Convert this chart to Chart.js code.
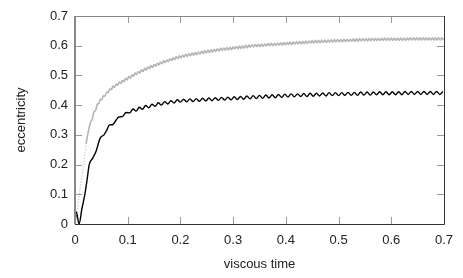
<!DOCTYPE html>
<html>
<head>
<meta charset="utf-8">
<script src="https://cdn.jsdelivr.net/npm/chart.js@4"></script>
<style>
  html, body { margin: 0; padding: 0; background: #fff; }
  #wrap { width: 463px; height: 278px; }
</style>
</head>
<body>
<div id="wrap"><canvas id="Mychart" width="463" height="278"></canvas></div>
<script>
// tick values
const xTicks = [0, 0.1, 0.2, 0.3, 0.4, 0.5, 0.6, 0.7];
const yTicks = [0, 0.1, 0.2, 0.3, 0.4, 0.5, 0.6, 0.7];

// black curve (lower)
const blackX = [
  0, 0.0025, 0.0076, 0.013, 0.019, 0.023, 0.027, 0.033, 0.04, 0.045,
  0.048, 0.055, 0.06, 0.065, 0.072, 0.078, 0.083, 0.09, 0.097, 0.104,
  0.110, 0.116, 0.122, 0.128, 0.134, 0.140, 0.146, 0.152, 0.158, 0.164,
  0.170, 0.176, 0.182, 0.188, 0.194, 0.200, 0.206, 0.212, 0.218, 0.224,
  0.230, 0.236, 0.242, 0.248, 0.254, 0.260, 0.266, 0.272, 0.278, 0.284,
  0.290, 0.296, 0.302, 0.308, 0.314, 0.320, 0.326, 0.332, 0.338, 0.344,
  0.350, 0.356, 0.362, 0.368, 0.374, 0.380, 0.386, 0.392, 0.398, 0.404,
  0.410, 0.416, 0.422, 0.428, 0.434, 0.440, 0.446, 0.452, 0.458, 0.464,
  0.470, 0.476, 0.482, 0.488, 0.494, 0.500, 0.506, 0.512, 0.518, 0.524,
  0.530, 0.536, 0.542, 0.548, 0.554, 0.560, 0.566, 0.572, 0.578, 0.584,
  0.590, 0.596, 0.602, 0.608, 0.614, 0.620, 0.626, 0.632, 0.638, 0.644,
  0.650, 0.656, 0.662, 0.668, 0.674, 0.680, 0.686, 0.692, 0.698
];
const blackY = [
  0, 0.041, 0, 0.05, 0.103, 0.15, 0.2, 0.22, 0.245, 0.275,
  0.29, 0.3, 0.315, 0.333, 0.335, 0.35, 0.36, 0.362, 0.375, 0.374,
  0.387, 0.380, 0.393, 0.386, 0.399, 0.391, 0.403, 0.396, 0.408, 0.400,
  0.412, 0.404, 0.415, 0.407, 0.418, 0.410, 0.420, 0.411, 0.421, 0.412,
  0.422, 0.413, 0.423, 0.414, 0.424, 0.415, 0.425, 0.416, 0.426, 0.417,
  0.427, 0.418, 0.428, 0.419, 0.429, 0.420, 0.431, 0.421, 0.432, 0.422,
  0.433, 0.423, 0.434, 0.424, 0.435, 0.425, 0.436, 0.426, 0.437, 0.427,
  0.438, 0.428, 0.438, 0.429, 0.439, 0.429, 0.440, 0.430, 0.440, 0.431,
  0.441, 0.431, 0.442, 0.432, 0.442, 0.432, 0.442, 0.433, 0.443, 0.433,
  0.443, 0.433, 0.444, 0.434, 0.444, 0.434, 0.444, 0.435, 0.445, 0.435,
  0.445, 0.435, 0.445, 0.435, 0.445, 0.435, 0.446, 0.436, 0.446, 0.436,
  0.446, 0.436, 0.446, 0.436, 0.446, 0.436, 0.446, 0.436, 0.446
];

// grey curve (upper), dotted lead-in then solid
const greyLeadX = [0, 0.006, 0.012, 0.018, 0.021];
const greyLeadY = [0, 0.07, 0.15, 0.22, 0.27];

const greyX = [
  0.021, 0.024, 0.027,
  0.030, 0.033, 0.036, 0.039, 0.042, 0.045, 0.048, 0.051, 0.054, 0.057,
  0.060, 0.063, 0.066, 0.069, 0.072, 0.075, 0.078, 0.081, 0.084, 0.087,
  0.090, 0.093, 0.096, 0.099, 0.102, 0.105, 0.108, 0.111, 0.114, 0.117,
  0.120, 0.123, 0.126, 0.129, 0.132, 0.135, 0.138, 0.141, 0.144, 0.147,
  0.150, 0.153, 0.156, 0.159, 0.162, 0.165, 0.168, 0.171, 0.174, 0.177,
  0.180, 0.183, 0.186, 0.189, 0.192, 0.195, 0.198, 0.201, 0.204, 0.207,
  0.210, 0.213, 0.216, 0.219, 0.222, 0.225, 0.228, 0.231, 0.234, 0.237,
  0.240, 0.243, 0.246, 0.249, 0.252, 0.255, 0.258, 0.261, 0.264, 0.267,
  0.270, 0.273, 0.276, 0.279, 0.282, 0.285, 0.288, 0.291, 0.294, 0.297,
  0.300, 0.303, 0.306, 0.309, 0.312, 0.315, 0.318, 0.321, 0.324, 0.327,
  0.330, 0.333, 0.336, 0.339, 0.342, 0.345, 0.348, 0.351, 0.354, 0.357,
  0.360, 0.363, 0.366, 0.369, 0.372, 0.375, 0.378, 0.381, 0.384, 0.387,
  0.390, 0.393, 0.396, 0.399, 0.402, 0.405, 0.408, 0.411, 0.414, 0.417,
  0.420, 0.423, 0.426, 0.429, 0.432, 0.435, 0.438, 0.441, 0.444, 0.447,
  0.450, 0.453, 0.456, 0.459, 0.462, 0.465, 0.468, 0.471, 0.474, 0.477,
  0.480, 0.483, 0.486, 0.489, 0.492, 0.495, 0.498, 0.501, 0.504, 0.507,
  0.510, 0.513, 0.516, 0.519, 0.522, 0.525, 0.528, 0.531, 0.534, 0.537,
  0.540, 0.543, 0.546, 0.549, 0.552, 0.555, 0.558, 0.561, 0.564, 0.567,
  0.570, 0.573, 0.576, 0.579, 0.582, 0.585, 0.588, 0.591, 0.594, 0.597,
  0.600, 0.603, 0.606, 0.609, 0.612, 0.615, 0.618, 0.621, 0.624, 0.627,
  0.630, 0.633, 0.636, 0.639, 0.642, 0.645, 0.648, 0.651, 0.654, 0.657,
  0.660, 0.663, 0.666, 0.669, 0.672, 0.675, 0.678, 0.681, 0.684, 0.687,
  0.690, 0.693, 0.696, 0.699
];
const greyY = [
  0.27, 0.30, 0.325,
  0.344, 0.354, 0.378, 0.382, 0.402, 0.406, 0.420, 0.418, 0.432, 0.430,
  0.444, 0.442, 0.455, 0.452, 0.464, 0.460, 0.471, 0.467, 0.478, 0.473,
  0.484, 0.479, 0.490, 0.485, 0.496, 0.491, 0.502, 0.497, 0.508, 0.503,
  0.513, 0.508, 0.519, 0.513, 0.524, 0.518, 0.528, 0.523, 0.533, 0.527,
  0.537, 0.531, 0.541, 0.535, 0.545, 0.539, 0.549, 0.543, 0.552, 0.546,
  0.556, 0.550, 0.559, 0.553, 0.563, 0.556, 0.566, 0.559, 0.568, 0.562,
  0.571, 0.564, 0.573, 0.566, 0.575, 0.568, 0.577, 0.570, 0.579, 0.572,
  0.581, 0.574, 0.583, 0.576, 0.585, 0.577, 0.586, 0.579, 0.588, 0.581,
  0.590, 0.582, 0.591, 0.584, 0.592, 0.585, 0.594, 0.586, 0.595, 0.587,
  0.596, 0.589, 0.597, 0.590, 0.599, 0.591, 0.600, 0.592, 0.601, 0.593,
  0.602, 0.595, 0.603, 0.596, 0.604, 0.597, 0.605, 0.597, 0.606, 0.598,
  0.606, 0.599, 0.607, 0.600, 0.608, 0.600, 0.608, 0.601, 0.609, 0.602,
  0.610, 0.602, 0.611, 0.603, 0.611, 0.604, 0.612, 0.604, 0.613, 0.605,
  0.613, 0.606, 0.614, 0.606, 0.615, 0.607, 0.616, 0.608, 0.616, 0.609,
  0.617, 0.609, 0.618, 0.610, 0.618, 0.610, 0.619, 0.611, 0.619, 0.611,
  0.620, 0.612, 0.620, 0.612, 0.621, 0.613, 0.621, 0.613, 0.621, 0.613,
  0.622, 0.614, 0.622, 0.614, 0.622, 0.615, 0.623, 0.615, 0.623, 0.615,
  0.624, 0.616, 0.624, 0.616, 0.624, 0.616, 0.624, 0.617, 0.625, 0.617,
  0.625, 0.617, 0.625, 0.617, 0.625, 0.618, 0.626, 0.618, 0.626, 0.618,
  0.626, 0.618, 0.626, 0.618, 0.626, 0.618, 0.626, 0.618, 0.626, 0.618,
  0.626, 0.619, 0.627, 0.619, 0.627, 0.619, 0.627, 0.619, 0.627, 0.619,
  0.627, 0.619, 0.627, 0.619, 0.627, 0.619, 0.627, 0.619, 0.627, 0.619,
  0.627, 0.619, 0.627, 0.619
];

const toPoints = (xs, ys) => xs.map((x, i) => ({ x: x, y: ys[i] }));

const FONT = { family: "'Liberation Sans', Arial, sans-serif", size: 13 };
const TEXT = "#222";

// gnuplot style frame with inward ticks on all four sides
const framePlugin = {
  id: "frame",
  afterDraw(chart) {
    const { ctx, chartArea: a, scales } = chart;
    const tl = 7;
    ctx.save();
    ctx.lineWidth = 1;
    ctx.strokeStyle = "#999";
    ctx.beginPath();
    xTicks.forEach((v) => {
      const px = Math.round(scales.x.getPixelForValue(v)) + 0.5;
      ctx.moveTo(px, a.bottom);
      ctx.lineTo(px, a.bottom - tl);
      ctx.moveTo(px, a.top);
      ctx.lineTo(px, a.top + tl);
    });
    yTicks.forEach((v) => {
      const py = Math.round(scales.y.getPixelForValue(v)) + 0.5;
      ctx.moveTo(a.left, py);
      ctx.lineTo(a.left + tl, py);
      ctx.moveTo(a.right, py);
      ctx.lineTo(a.right - tl, py);
    });
    ctx.stroke();

    const L = Math.round(a.left), R = Math.round(a.right);
    const T = Math.round(a.top), B = Math.round(a.bottom);
    ctx.strokeStyle = "#888";
    ctx.lineWidth = 1;
    ctx.beginPath();
    ctx.moveTo(L, T + 0.5);
    ctx.lineTo(R, T + 0.5);
    ctx.stroke();
    ctx.lineWidth = 2;
    ctx.beginPath();
    ctx.moveTo(L, T);
    ctx.lineTo(L, B);
    ctx.stroke();
    ctx.strokeStyle = "#333";
    ctx.lineWidth = 1;
    ctx.beginPath();
    ctx.moveTo(L, B + 0.5);
    ctx.lineTo(R + 0.5, B + 0.5);
    ctx.moveTo(R + 0.5, T);
    ctx.lineTo(R + 0.5, B + 0.5);
    ctx.stroke();
    ctx.restore();
  },
};

const ctx = document.getElementById("Mychart").getContext("2d");
const stockChart = new Chart(ctx, {
  type: "line",
  data: {
    datasets: [
      {
        label: "grey lead",
        data: toPoints(greyLeadX, greyLeadY),
        borderColor: "#a8a8a8",
        borderWidth: 1,
        borderDash: [1, 2],
        pointRadius: 0,
        tension: 0,
      },
      {
        label: "grey",
        data: toPoints(greyX, greyY),
        borderColor: "#b4b4b4",
        borderWidth: 1.6,
        pointRadius: 0,
        cubicInterpolationMode: "monotone",
      },
      {
        label: "black",
        data: toPoints(blackX, blackY),
        borderColor: "#000",
        borderWidth: 1.4,
        pointRadius: 0,
        cubicInterpolationMode: "monotone",
      },
    ],
  },
  options: {
    responsive: false,
    animation: false,
    layout: { padding: { top: 16, right: 19, left: 0, bottom: 0 } },
    plugins: { legend: { display: false }, tooltip: { enabled: false } },
    scales: {
      x: {
        type: "linear",
        min: 0,
        max: 0.7,
        afterBuildTicks: (s) => { s.ticks = xTicks.map((v) => ({ value: v })); },
        afterFit: (s) => { s.height = 54; },
        grid: { display: false, drawTicks: false },
        border: { display: false },
        ticks: {
          padding: 9,
          color: TEXT,
          font: FONT,
          maxRotation: 0,
          callback: (v) => String(+v.toFixed(1)),
        },
        title: {
          display: true,
          text: "viscous time",
          color: TEXT,
          font: FONT,
          padding: { top: 0, bottom: 6 },
        },
      },
      y: {
        type: "linear",
        min: 0,
        max: 0.7,
        afterBuildTicks: (s) => { s.ticks = yTicks.map((v) => ({ value: v })); },
        afterFit: (s) => { s.width = 75; },
        grid: { display: false, drawTicks: false },
        border: { display: false },
        ticks: {
          padding: 7,
          color: TEXT,
          font: FONT,
          callback: (v) => String(+v.toFixed(1)),
        },
        title: {
          display: true,
          text: "eccentricity",
          color: TEXT,
          font: FONT,
          padding: { top: 14, bottom: 0 },
        },
      },
    },
  },
  plugins: [framePlugin],
});
</script>
</body>
</html>
